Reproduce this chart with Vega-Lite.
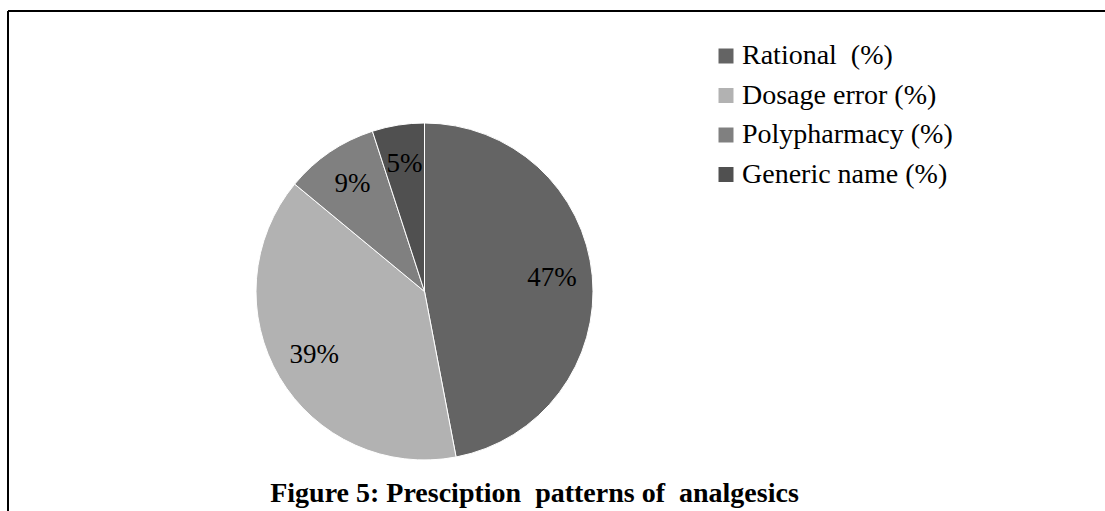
{
  "$schema": "https://vega.github.io/schema/vega-lite/v6.json",
  "width": 1097,
  "height": 500,
  "padding": {"left": 8, "top": 11, "right": 0, "bottom": 0},
  "autosize": {"type": "none"},
  "background": "white",
  "config": {"view": {"stroke": null}},
  "title": {
    "text": "Figure 5: Presciption\u00a0 patterns of\u00a0 analgesics",
    "orient": "bottom",
    "anchor": "middle",
    "font": "Liberation Serif",
    "fontSize": 28,
    "fontWeight": "bold",
    "color": "black",
    "baseline": "alphabetic",
    "offset": -10,
    "dx": -22
  },
  "data": {
    "values": [
      {"category": "Rational\u00a0 (%)", "value": 47, "label": "47%", "rank": 1},
      {"category": "Dosage error (%)", "value": 39, "label": "39%", "rank": 2},
      {"category": "Polypharmacy (%)", "value": 9, "label": "9%", "rank": 3},
      {"category": "Generic name (%)", "value": 5, "label": "5%", "rank": 4}
    ]
  },
  "layer": [
    {
      "mark": {"type": "arc", "outerRadius": 168.5, "stroke": "white", "strokeWidth": 1, "xOffset": -132, "yOffset": 30.5},
      "encoding": {
        "theta": {"field": "value", "type": "quantitative", "stack": true},
        "order": {"field": "rank", "type": "quantitative"},
        "color": {
          "field": "category",
          "type": "nominal",
          "sort": null,
          "scale": {
            "domain": ["Rational\u00a0 (%)", "Dosage error (%)", "Polypharmacy (%)", "Generic name (%)"],
            "range": ["#646464", "#b2b2b2", "#808080", "#505050"]
          },
          "legend": {
            "title": null,
            "orient": "none",
            "legendX": 704,
            "legendY": 31,
            "padding": 0,
            "symbolType": "square",
            "symbolSize": 225,
            "symbolStrokeWidth": 0,
            "labelFont": "Liberation Serif",
            "labelFontSize": 28,
            "labelColor": "black",
            "labelOffset": 2,
            "labelLimit": 400,
            "rowPadding": 11.5
          }
        }
      }
    },
    {
      "mark": {"type": "text", "radius": 128, "font": "Liberation Serif", "fontSize": 27, "color": "black", "xOffset": -132, "yOffset": 29},
      "encoding": {
        "theta": {"field": "value", "type": "quantitative", "stack": true},
        "order": {"field": "rank", "type": "quantitative"},
        "text": {"field": "label", "type": "nominal"}
      }
    },
    {
      "data": {"values": [{}]},
      "mark": {"type": "rule", "color": "black", "strokeWidth": 2},
      "encoding": {"y": {"value": 0}}
    },
    {
      "data": {"values": [{}]},
      "mark": {"type": "rule", "color": "black", "strokeWidth": 2},
      "encoding": {"x": {"value": 0}}
    }
  ]
}
